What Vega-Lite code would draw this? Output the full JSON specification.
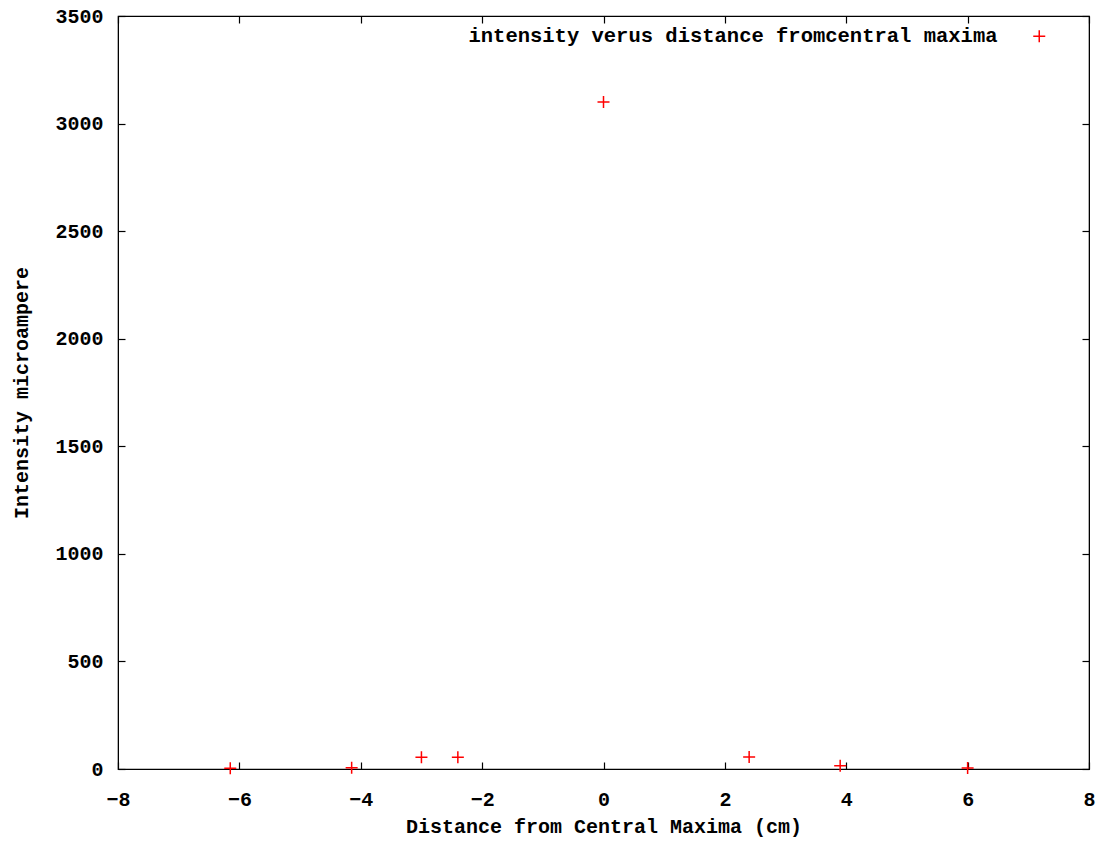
{
  "$schema": "https://vega.github.io/schema/vega-lite/v6.json",
  "autosize": {"type": "none"},
  "padding": {"left": 118, "top": 16, "right": 23, "bottom": 73},
  "width": 971,
  "height": 753,
  "background": "white",
  "config": {
    "view": {"stroke": "#000", "strokeWidth": 1.2},
    "font": "Liberation Mono",
    "axis": {
      "labelFont": "Liberation Mono",
      "labelFontWeight": "bold",
      "labelFontSize": 20,
      "labelColor": "#000",
      "titleFont": "Liberation Mono",
      "titleFontWeight": "bold",
      "titleFontSize": 20,
      "titleColor": "#000",
      "domainColor": "#000",
      "tickColor": "#000",
      "tickSize": -7,
      "tickWidth": 1.2,
      "grid": false
    },
    "legend": {
      "labelFont": "Liberation Mono",
      "labelFontWeight": "bold",
      "labelFontSize": 20.5,
      "labelColor": "#000",
      "labelLimit": 0
    }
  },
  "data": {
    "values": [
      {"distance": -6.15, "intensity": 3},
      {"distance": -4.15, "intensity": 6},
      {"distance": -3.0, "intensity": 55},
      {"distance": -2.4, "intensity": 55},
      {"distance": 0.0, "intensity": 3100},
      {"distance": 2.4, "intensity": 56},
      {"distance": 3.9, "intensity": 15},
      {"distance": 6.0, "intensity": 5}
    ]
  },
  "layer": [
    {
      "mark": {"type": "point", "shape": "M-1,0H1M0,-1V1", "filled": false, "size": 144, "strokeWidth": 1.5, "opacity": 1},
      "encoding": {
        "x": {
          "field": "distance", "type": "quantitative",
          "scale": {"domain": [-8, 8], "nice": false, "zero": false},
          "axis": {"orient": "bottom", "values": [-8, -6, -4, -2, 0, 2, 4, 6, 8], "format": "d", "title": "Distance from Central Maxima (cm)", "labelPadding": 27, "titlePadding": 7, "labelFlush": false}
        },
        "y": {
          "field": "intensity", "type": "quantitative",
          "scale": {"domain": [0, 3500], "nice": false},
          "axis": {"orient": "left", "values": [0, 500, 1000, 1500, 2000, 2500, 3000, 3500], "format": "d", "title": "Intensity microampere", "labelPadding": 22, "titlePadding": 23, "labelFlush": false}
        },
        "color": {
          "datum": "intensity verus distance fromcentral maxima",
          "type": "nominal",
          "scale": {"range": ["#ff0000"]},
          "legend": {
            "title": null,
            "orient": "none",
            "legendX": 911,
            "legendY": 10,
            "padding": 0,
            "symbolType": "M-1,0H1M0,-1V1",
            "symbolSize": 144,
            "symbolStrokeWidth": 1.5,
            "symbolOpacity": 1,
            "labelAlign": "right",
            "labelOffset": -52
          }
        }
      }
    },
    {
      "mark": {"type": "point", "opacity": 0},
      "encoding": {
        "x": {
          "field": "distance", "type": "quantitative",
          "scale": {"domain": [-8, 8], "nice": false, "zero": false},
          "axis": {"orient": "top", "values": [-8, -6, -4, -2, 0, 2, 4, 6, 8], "labels": false, "title": null}
        },
        "y": {
          "field": "intensity", "type": "quantitative",
          "scale": {"domain": [0, 3500], "nice": false},
          "axis": {"orient": "right", "values": [0, 500, 1000, 1500, 2000, 2500, 3000, 3500], "labels": false, "title": null}
        }
      }
    }
  ],
  "resolve": {"axis": {"x": "independent", "y": "independent"}}
}
